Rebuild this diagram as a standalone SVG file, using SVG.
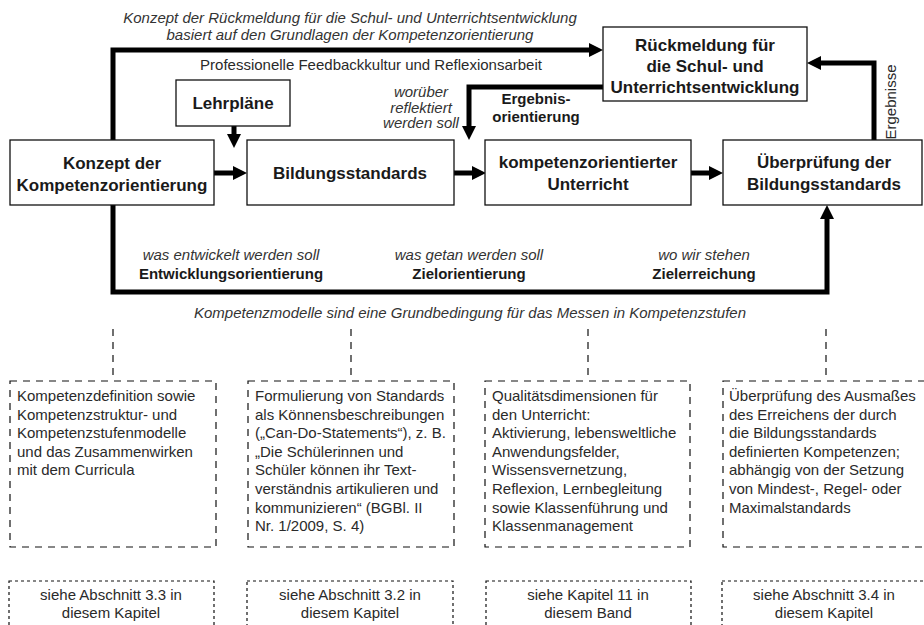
<svg xmlns="http://www.w3.org/2000/svg" width="924" height="625" viewBox="0 0 924 625">
<style>
  text { font-family: "Liberation Sans", Arial, sans-serif; fill: #1a1a1a; }
  .box { fill: #fff; stroke: #111; stroke-width: 1.3; }
  .t { font-size: 17px; font-weight: bold; text-anchor: middle; }
  .it { font-size: 15px; font-style: italic; fill: #333; }
  .lb { font-size: 15px; font-weight: bold; }
  .c { text-anchor: middle; }
  .body { font-size: 15px; fill: #2a2a2a; }
  .thick { fill: none; stroke: #000; stroke-width: 5; stroke-linejoin: miter; }
  .dash { fill: none; stroke: #111; stroke-width: 1.2; stroke-dasharray: 7 6; }
  .dot { fill: none; stroke: #111; stroke-width: 1.2; stroke-dasharray: 3 3; }
</style>
<defs>
  <marker id="ah" markerUnits="userSpaceOnUse" markerWidth="14" markerHeight="14" refX="0" refY="7" orient="auto">
    <path d="M0,0 L14,7 L0,14 z" fill="#000"/>
  </marker>
</defs>

<!-- free labels -->
<text class="it c" x="350" y="23">Konzept der Rückmeldung für die Schul- und Unterrichtsentwicklung</text>
<text class="it c" x="350" y="40">basiert auf den Grundlagen der Kompetenzorientierung</text>
<text class="body c" x="371" y="70">Professionelle Feedbackkultur und Reflexionsarbeit</text>
<text class="it c" font-size="14" x="421" y="97">worüber</text>
<text class="it c" font-size="14" x="421" y="112.5">reflektiert</text>
<text class="it c" font-size="14" x="421" y="128">werden soll</text>
<text class="lb c" x="536" y="104">Ergebnis-</text>
<text class="lb c" x="536" y="122">orientierung</text>
<text class="body c" font-size="14" transform="translate(896,102) rotate(-90)" x="0" y="0">Ergebnisse</text>
<text class="it c" x="231" y="260">was entwickelt werden soll</text>
<text class="lb c" x="231" y="279">Entwicklungsorientierung</text>
<text class="it c" x="469" y="260">was getan werden soll</text>
<text class="lb c" x="469" y="279">Zielorientierung</text>
<text class="it c" x="704" y="260">wo wir stehen</text>
<text class="lb c" x="704" y="279">Zielerreichung</text>
<text class="it c" x="470" y="318">Kompetenzmodelle sind eine Grundbedingung für das Messen in Kompetenzstufen</text>

<!-- connectors -->
<g id="connectors">
  <path class="thick" d="M113,140 V50 H589" marker-end="url(#ah)"/>
  <path class="thick" d="M113,205 V292 H827 V219" marker-end="url(#ah)"/>
  <path class="thick" d="M603,87 H469 V126" marker-end="url(#ah)"/>
  <path class="thick" d="M874,141 V63 H821" marker-end="url(#ah)"/>
  <path class="thick" d="M234,126 V134" marker-end="url(#ah)"/>
  <path class="thick" d="M214,173 H233" marker-end="url(#ah)"/>
  <path class="thick" d="M454,173 H472" marker-end="url(#ah)"/>
  <path class="thick" d="M691,173 H709" marker-end="url(#ah)"/>
  <path class="dash" d="M113,329 V381"/>
  <path class="dash" d="M351,329 V381"/>
  <path class="dash" d="M588,329 V381"/>
  <path class="dash" d="M826,329 V381"/>
</g>

<!-- main nodes -->
<g id="konzept">
  <rect class="box" x="10" y="140" width="204" height="65"/>
  <text class="t" x="112" y="169">Konzept der</text>
  <text class="t" x="112" y="191">Kompetenzorientierung</text>
</g>
<g id="bildungsstandards">
  <rect class="box" x="247" y="140" width="207" height="65"/>
  <text class="t" x="350" y="179">Bildungsstandards</text>
</g>
<g id="unterricht">
  <rect class="box" x="485" y="140" width="206" height="65"/>
  <text class="t" x="588" y="168">kompetenzorientierter</text>
  <text class="t" x="588" y="190">Unterricht</text>
</g>
<g id="ueberpruefung">
  <rect class="box" x="723" y="140" width="199" height="65"/>
  <text class="t" x="824" y="168">Überprüfung der</text>
  <text class="t" x="824" y="190">Bildungsstandards</text>
</g>
<g id="rueckmeldung">
  <rect class="box" x="603" y="27" width="204" height="74"/>
  <text class="t" x="705" y="51">Rückmeldung für</text>
  <text class="t" x="705" y="72">die Schul- und</text>
  <text class="t" x="705" y="93">Unterrichtsentwicklung</text>
</g>
<g id="lehrplaene">
  <rect class="box" x="176" y="80" width="114" height="46"/>
  <text class="t" x="233" y="109">Lehrpläne</text>
</g>

<!-- dashed description nodes -->
<g id="desc1">
  <rect class="dash" x="10" y="381" width="206" height="166"/>
  <text class="body" x="17" y="401">Kompetenzdefinition sowie</text>
  <text class="body" x="17" y="419.6">Kompetenzstruktur- und</text>
  <text class="body" x="17" y="438.2">Kompetenzstufenmodelle</text>
  <text class="body" x="17" y="456.8">und das Zusammenwirken</text>
  <text class="body" x="17" y="475.4">mit dem Curricula</text>
</g>
<g id="desc2">
  <rect class="dash" x="248" y="381" width="206" height="166"/>
  <text class="body" x="255" y="401">Formulierung von Standards</text>
  <text class="body" x="255" y="419.6">als Könnensbeschreibungen</text>
  <text class="body" x="255" y="438.2">(„Can-Do-Statements“), z. B.</text>
  <text class="body" x="255" y="456.8">„Die Schülerinnen und</text>
  <text class="body" x="255" y="475.4">Schüler können ihr Text-</text>
  <text class="body" x="255" y="494">verständnis artikulieren und</text>
  <text class="body" x="255" y="512.6">kommunizieren“ (BGBl. II</text>
  <text class="body" x="255" y="531.2">Nr. 1/2009, S. 4)</text>
</g>
<g id="desc3">
  <rect class="dash" x="485" y="381" width="205" height="166"/>
  <text class="body" x="492" y="401">Qualitätsdimensionen für</text>
  <text class="body" x="492" y="419.6">den Unterricht:</text>
  <text class="body" x="492" y="438.2">Aktivierung, lebensweltliche</text>
  <text class="body" x="492" y="456.8">Anwendungsfelder,</text>
  <text class="body" x="492" y="475.4">Wissensvernetzung,</text>
  <text class="body" x="492" y="494">Reflexion, Lernbegleitung</text>
  <text class="body" x="492" y="512.6">sowie Klassenführung und</text>
  <text class="body" x="492" y="531.2">Klassenmanagement</text>
</g>
<g id="desc4">
  <rect class="dash" x="723" y="381" width="205" height="166"/>
  <text class="body" x="729" y="401">Überprüfung des Ausmaßes</text>
  <text class="body" x="729" y="419.6">des Erreichens der durch</text>
  <text class="body" x="729" y="438.2">die Bildungsstandards</text>
  <text class="body" x="729" y="456.8">definierten Kompetenzen;</text>
  <text class="body" x="729" y="475.4">abhängig von der Setzung</text>
  <text class="body" x="729" y="494">von Mindest-, Regel- oder</text>
  <text class="body" x="729" y="512.6">Maximalstandards</text>
</g>

<!-- dotted reference nodes -->
<g id="ref1">
  <rect class="dot" x="9" y="581" width="205" height="60"/>
  <text class="body c" x="111" y="600">siehe Abschnitt 3.3 in</text>
  <text class="body c" x="111" y="618">diesem Kapitel</text>
</g>
<g id="ref2">
  <rect class="dot" x="247" y="581" width="206" height="60"/>
  <text class="body c" x="350" y="600">siehe Abschnitt 3.2 in</text>
  <text class="body c" x="350" y="618">diesem Kapitel</text>
</g>
<g id="ref3">
  <rect class="dot" x="486" y="581" width="205" height="60"/>
  <text class="body c" x="588" y="600">siehe Kapitel 11 in</text>
  <text class="body c" x="588" y="618">diesem Band</text>
</g>
<g id="ref4">
  <rect class="dot" x="722" y="581" width="206" height="60"/>
  <text class="body c" x="824" y="600">siehe Abschnitt 3.4 in</text>
  <text class="body c" x="824" y="618">diesem Kapitel</text>
</g>
</svg>
